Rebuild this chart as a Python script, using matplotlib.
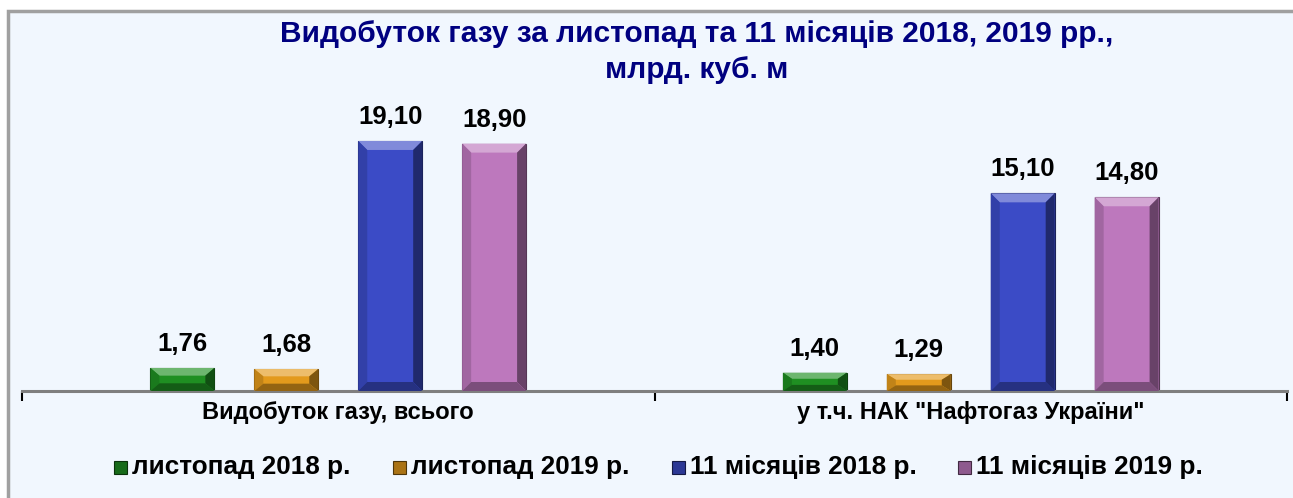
import matplotlib
matplotlib.use("Agg")
import matplotlib.pyplot as plt
from matplotlib.patches import Polygon, Rectangle
import numpy as np
from matplotlib.colors import to_rgb

# Дані
categories = ["Видобуток газу, всього", "у т.ч. НАК \"Нафтогаз України\""]
series_names = ["листопад 2018 р.", "листопад 2019 р.", "11 місяців 2018 р.", "11 місяців 2019 р."]
nov_2018 = [1.76, 1.40]
nov_2019 = [1.68, 1.29]
m11_2018 = [19.10, 15.10]
m11_2019 = [18.90, 14.80]
series_values = [nov_2018, nov_2019, m11_2018, m11_2019]
colors = ["#1f8f22", "#e39a1c", "#3b4bc6", "#bd78bd"]
title = "Видобуток газу за листопад та 11 місяців 2018, 2019 рр.,\nмлрд. куб. м"

W, H = 1293, 498
plt.rcParams['font.family'] = ['Liberation Sans', 'DejaVu Sans']
fig = plt.figure(figsize=(W / 100, H / 100), dpi=100)
fig.patch.set_facecolor("white")

# рамка діаграми
fig.patches.append(Rectangle((8 / W, -0.1), 1.2, 1.1 - 11 / H, transform=fig.transFigure,
                             facecolor="#f1f7fe", edgecolor="#a0a0a0", linewidth=2.5, zorder=-10))

left, right = 22 / W, 1287 / W
bottom, top = (H - 391) / H, (H - 100) / H
ax = fig.add_axes([left, bottom, right - left, top - bottom])
ax.set_facecolor("none")
ymax = 291 / 13.09
ax.set_xlim(-0.5, 1.5)
ax.set_ylim(0, ymax)

# розмір пікселя у координатах даних
px_x = 2.0 / ((right - left) * W)
px_y = ymax / ((top - bottom) * H)
bx, by = 9 * px_x, 9 * px_y


def shade(c, f):
    r = np.array(to_rgb(c))
    if f >= 1:
        return tuple(r + (1 - r) * (f - 1))
    return tuple(r * f)


width = 64 / 633
step = 104 / 633
x = np.arange(len(categories))
for i, (vals, col) in enumerate(zip(series_values, colors)):
    xs = x + (i - 1.5) * step
    bars = ax.bar(xs, vals, width=width, color=col, edgecolor=shade(col, 0.45), linewidth=0.8, zorder=2)
    for b, v in zip(bars, vals):
        x0, x1 = b.get_x(), b.get_x() + b.get_width()
        y0, y1 = 0, v
        byy = min(by, v / 3)
        # верхня фаска
        ax.add_patch(Polygon([(x0, y1), (x1, y1), (x1 - bx, y1 - byy), (x0 + bx, y1 - byy)],
                             closed=True, facecolor=shade(col, 1.35), edgecolor="none", zorder=3))
        # права фаска
        ax.add_patch(Polygon([(x1, y1), (x1, y0), (x1 - bx, y0 + byy), (x1 - bx, y1 - byy)],
                             closed=True, facecolor=shade(col, 0.55), edgecolor="none", zorder=3))
        # ліва фаска
        ax.add_patch(Polygon([(x0, y1), (x0, y0), (x0 + bx, y0 + byy), (x0 + bx, y1 - byy)],
                             closed=True, facecolor=shade(col, 0.85), edgecolor="none", zorder=3))
        # нижня фаска
        ax.add_patch(Polygon([(x0, y0), (x1, y0), (x1 - bx, y0 + byy), (x0 + bx, y0 + byy)],
                             closed=True, facecolor=shade(col, 0.65), edgecolor="none", zorder=3))
        ax.text(b.get_x() + b.get_width() / 2, v + 12 * px_y, f"{v:.2f}".replace(".", ","),
                ha="center", va="bottom", fontsize=18.5, fontweight="bold", color="black")

# осі
for s in ["left", "right", "top"]:
    ax.spines[s].set_visible(False)
ax.spines["bottom"].set_color("#7f7f7f")
ax.spines["bottom"].set_linewidth(2.2)
ax.set_yticks([])
ax.set_xticks([-0.5, 0.5, 1.5])
ax.set_xticklabels([])
ax.tick_params(axis="x", length=7, width=1.5, color="black", direction="out")
for xi, name in zip(x, categories):
    ax.text(xi, -10 * px_y, name, ha="center", va="top", fontsize=17, fontweight="bold")

fig.text(697 / W, 1 - 20 / H, title, ha="center", va="top", fontsize=21.5, fontweight="bold",
         color="#000080", linespacing=1.37)

# легенда
leg_x = [114, 393, 672, 958]
for lx, name, col in zip(leg_x, series_names, colors):
    fig.patches.append(Rectangle((lx / W, 1 - 474 / H), 13 / W, 13 / H, transform=fig.transFigure,
                                 facecolor=shade(col, 0.75), edgecolor=shade(col, 0.35), linewidth=0.8))
    fig.text((lx + 18) / W, 1 - 467 / H, name, ha="left", va="center", fontsize=18.8,
             fontweight="bold")

fig.savefig("out.png", dpi=100)
